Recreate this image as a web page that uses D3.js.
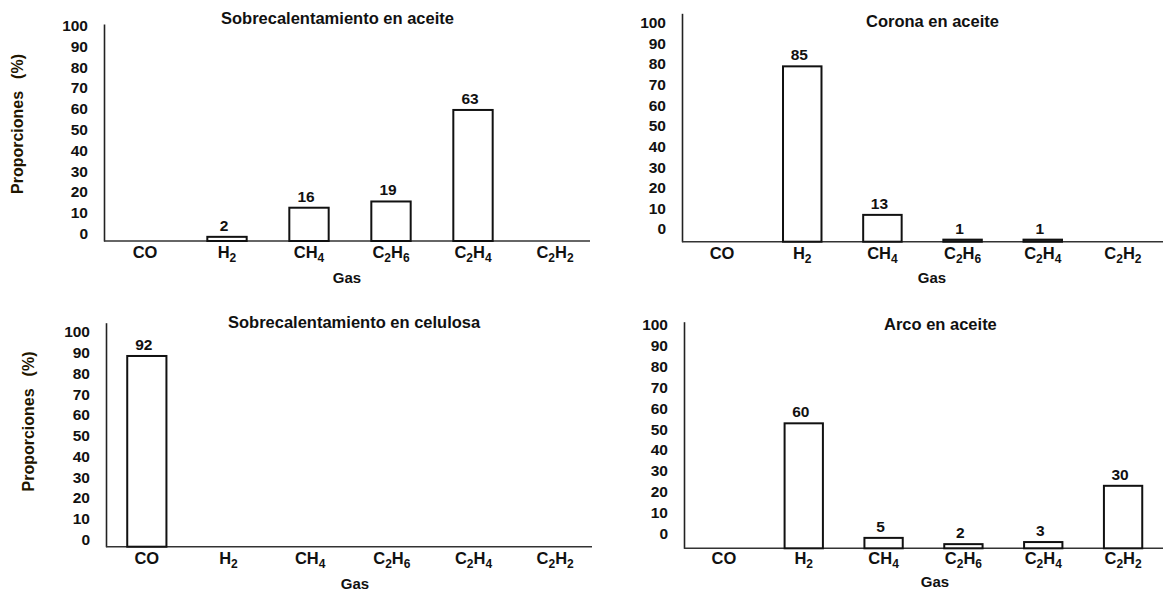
<!DOCTYPE html>
<html>
<head>
<meta charset="utf-8">
<script src="https://cdn.jsdelivr.net/npm/d3@7"></script>
<style>
  html, body { margin: 0; padding: 0; background: #fff; }
  svg { display: block; font-family: "Liberation Sans", Arial, Helvetica, sans-serif; }
  .tick text { font-weight: bold; fill: #111; }
</style>
</head>
<body>
<svg id="chart" width="1163" height="592"></svg>
<script>
// Gas categories shared by every panel (digits are drawn as subscripts)
const gases = ["CO", "H2", "CH4", "C2H6", "C2H4", "C2H2"];
const yTicks = [0, 10, 20, 30, 40, 50, 60, 70, 80, 90, 100];

// Relative proportions (%) of each gas per fault type
const titles = [
  "Sobrecalentamiento en aceite",
  "Corona en aceite",
  "Sobrecalentamiento en celulosa",
  "Arco en aceite"
];
const overheatOil = [0, 2, 16, 19, 63, 0];
const coronaOil = [0, 85, 13, 1, 1, 0];
const overheatCellulose = [92, 0, 0, 0, 0, 0];
const arcOil = [0, 60, 5, 2, 3, 30];

const seriesList = [overheatOil, coronaOil, overheatCellulose, arcOil];

// Layout of the four panels
const layout = [
  { x0: 104, x1: 596, xEnd: 590, base: 241, y100: 33, top: 24, tickDy: -7.5,
    titleX: 221, titleY: 23.5, xPad: 5, gasX: 347, gasY: 283, yTitle: [17, 124] },
  { x0: 682, x1: 1163, xEnd: 1163, base: 241.7, y100: 35.4, top: 13.3, tickDy: -12.7,
    titleX: 866, titleY: 27, xPad: 5.3, gasX: 932, gasY: 282.7, yTitle: null },
  { x0: 106, x1: 596, xEnd: 592, base: 546.7, y100: 339.4, top: 322.7, tickDy: -7.4,
    titleX: 228, titleY: 328, xPad: 5.3, gasX: 355, gasY: 589, yTitle: [28, 421.5] },
  { x0: 684, x1: 1163, xEnd: 1163, base: 548.3, y100: 340, top: 321.7, tickDy: -15,
    titleX: 884, titleY: 329.5, xPad: 4, gasX: 935, gasY: 587, yTitle: null }
];

const svg = d3.select("#chart");

// Write a chemical formula with subscripted digits
function formula(sel, name) {
  sel.text(null);
  const parts = name.match(/[A-Za-z]+|\d+/g);
  let sub = false;
  parts.forEach(p => {
    const isDigit = /\d/.test(p);
    const t = sel.append("tspan").text(p);
    if (isDigit && !sub) { t.attr("font-size", 12).attr("dy", 4); sub = true; }
    else if (!isDigit && sub) { t.attr("dy", -4); sub = false; }
  });
}

seriesList.forEach((values, i) => {
  const L = layout[i];
  const g = svg.append("g");

  const x = d3.scaleBand()
    .domain(gases)
    .range([L.x0, L.x1])
    .paddingInner(0.52)
    .paddingOuter(0.26);

  const y = d3.scaleLinear().domain([0, 100]).range([L.base, L.y100]);
  y.domain([0, y.invert(L.top)]).range([L.base, L.top]);

  // y axis: labels only, no tick marks
  const yAxis = g.append("g")
    .attr("transform", `translate(${L.x0},0)`)
    .call(d3.axisLeft(y).tickValues(yTicks).tickSize(0).tickSizeOuter(0).tickPadding(16));
  yAxis.select(".domain").attr("stroke", "#222").attr("stroke-width", 1.6);
  yAxis.selectAll(".tick text")
    .attr("font-size", 15.5)
    .attr("font-family", "Liberation Sans, Arial, sans-serif")
    .attr("transform", `translate(0,${L.tickDy})`);

  // x axis along the baseline
  const xAxis = g.append("g")
    .attr("transform", `translate(0,${L.base})`)
    .call(d3.axisBottom(x).tickSize(0).tickSizeOuter(0).tickPadding(L.xPad));
  xAxis.select(".domain")
    .attr("d", `M${L.x0},0H${L.xEnd}`)
    .attr("stroke", "#333").attr("stroke-width", 1.5);
  xAxis.selectAll(".tick text")
    .attr("font-size", 16.5)
    .attr("font-family", "Liberation Sans, Arial, sans-serif")
    .each(function(d) { formula(d3.select(this), d); });

  const data = gases.map((k, j) => ({ gas: k, value: values[j] })).filter(d => d.value > 0);

  // bars: white boxes with black outline
  g.selectAll("rect.bar")
    .data(data)
    .join("rect")
    .attr("class", "bar")
    .attr("x", d => x(d.gas))
    .attr("y", d => y(d.value))
    .attr("width", x.bandwidth())
    .attr("height", d => y(0) - y(d.value))
    .attr("fill", "#fff")
    .attr("stroke", "#111")
    .attr("stroke-width", 2);

  // value labels above each bar
  g.selectAll("text.val")
    .data(data)
    .join("text")
    .attr("class", "val")
    .attr("x", d => x(d.gas) + x.bandwidth() / 2 - 3)
    .attr("y", d => y(d.value) - 6)
    .attr("text-anchor", "middle")
    .attr("font-size", 15.5)
    .attr("font-weight", "bold")
    .attr("fill", "#111")
    .text(d => d.value);

  // panel title
  g.append("text")
    .attr("x", L.titleX)
    .attr("y", L.titleY)
    .attr("font-size", 16.5)
    .attr("font-weight", "bold")
    .attr("fill", "#111")
    .text(titles[i]);

  // x axis title
  g.append("text")
    .attr("x", L.gasX)
    .attr("y", L.gasY)
    .attr("text-anchor", "middle")
    .attr("font-size", 15)
    .attr("font-weight", "bold")
    .attr("fill", "#111")
    .text("Gas");

  // y axis title (left column only)
  if (L.yTitle) {
    const yt = g.append("text")
      .attr("transform", `translate(${L.yTitle[0]},${L.yTitle[1]}) rotate(-90)`)
      .attr("text-anchor", "middle")
      .attr("dy", "0.35em")
      .attr("font-size", 16)
      .attr("font-weight", "bold")
      .attr("fill", "#1f1600");
    yt.append("tspan").text("Proporciones");
    yt.append("tspan").attr("dx", 12).text("(%)");
  }
});
</script>
</body>
</html>
